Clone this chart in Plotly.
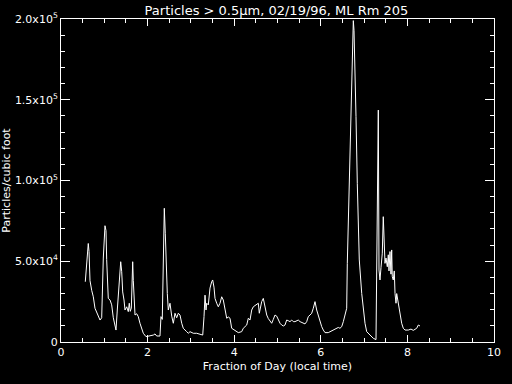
import plotly.graph_objects as go

# Fraction of day (local time)
x_days = [0.561, 0.594, 0.630, 0.647, 0.670, 0.709, 0.746, 0.785, 0.861, 0.901,
          0.940, 0.954, 0.977, 1.016, 1.039, 1.055, 1.092, 1.132, 1.171, 1.208,
          1.247, 1.270, 1.300, 1.323, 1.346, 1.379, 1.402, 1.425, 1.455, 1.478,
          1.517, 1.554, 1.577, 1.600, 1.624, 1.656, 1.670, 1.686, 1.709, 1.748,
          1.785, 1.824, 1.864, 1.901, 1.963, 2.055, 2.132, 2.171, 2.210, 2.286,
          2.309, 2.339, 2.363, 2.386, 2.409, 2.425, 2.455, 2.478, 2.517, 2.557,
          2.594, 2.633, 2.672, 2.709, 2.748, 2.788, 2.824, 2.903, 2.940, 2.979,
          3.055, 3.134, 3.210, 3.273, 3.303, 3.326, 3.349, 3.365, 3.402, 3.441,
          3.480, 3.503, 3.533, 3.557, 3.596, 3.633, 3.672, 3.711, 3.748, 3.788,
          3.827, 3.864, 3.903, 3.942, 4.018, 4.095, 4.173, 4.210, 4.289, 4.326,
          4.365, 4.404, 4.441, 4.520, 4.557, 4.580, 4.635, 4.672, 4.711, 4.751,
          4.788, 4.827, 4.866, 4.903, 4.942, 4.982, 5.018, 5.058, 5.097, 5.134,
          5.173, 5.212, 5.249, 5.289, 5.328, 5.365, 5.404, 5.443, 5.480, 5.520,
          5.559, 5.596, 5.635, 5.674, 5.711, 5.751, 5.790, 5.827, 5.866, 5.905,
          5.942, 5.982, 6.021, 6.058, 6.097, 6.173, 6.212, 6.289, 6.367, 6.404,
          6.443, 6.483, 6.520, 6.559, 6.598, 6.612, 6.658, 6.691, 6.714, 6.737,
          6.751, 6.767, 6.790, 6.813, 6.843, 6.889, 6.945, 6.982, 7.021, 7.060,
          7.136, 7.212, 7.275, 7.305, 7.328, 7.344, 7.367, 7.390, 7.420, 7.443,
          7.460, 7.483, 7.506, 7.536, 7.559, 7.575, 7.598, 7.621, 7.637, 7.651,
          7.674, 7.697, 7.714, 7.737, 7.753, 7.776, 7.813, 7.845, 7.868, 7.905,
          7.945, 8.021, 8.083, 8.136, 8.215, 8.252, 8.291]

# Particles per cubic foot (thousands)
particles_k = [37.3, 47.7, 61.0, 56.0, 38.0, 32.0, 28.0, 20.9, 16.7, 13.6,
               15.0, 28.0, 52.0, 72.0, 69.0, 51.0, 27.0, 26.0, 23.0, 15.0,
               8.7, 7.4, 19.8, 30.0, 36.5, 49.7, 43.5, 31.0, 26.0, 19.8,
               21.8, 18.8, 24.0, 19.0, 21.0, 49.7, 38.0, 26.0, 16.7, 17.5,
               15.7, 11.6, 8.5, 5.4, 3.3, 3.7, 4.3, 5.0, 3.7, 3.7,
               15.7, 14.0, 49.7, 82.8, 67.0, 49.7, 30.0, 19.8, 24.0, 16.0,
               11.6, 17.8, 15.0, 17.8, 16.7, 11.6, 8.5, 6.4, 5.4, 6.4,
               5.4, 5.4, 5.0, 4.3, 15.7, 29.0, 19.8, 24.0, 23.0, 33.4,
               37.3, 38.4, 34.0, 27.0, 24.0, 21.8, 24.0, 28.0, 26.0, 20.9,
               14.7, 15.5, 14.7, 8.5, 7.4, 5.8, 6.4, 8.5, 10.5, 14.7,
               13.6, 19.8, 21.8, 23.0, 24.0, 17.8, 25.0, 27.0, 22.0, 16.7,
               14.5, 12.6, 11.6, 14.0, 16.7, 16.0, 13.6, 11.6, 10.5, 9.9,
               10.5, 13.6, 13.2, 12.6, 13.6, 12.6, 12.6, 13.2, 13.6, 12.6,
               12.0, 11.6, 11.2, 12.6, 15.7, 16.7, 17.8, 20.9, 25.0, 19.8,
               16.0, 13.6, 9.5, 7.4, 5.8, 5.8, 6.4, 7.4, 8.5, 9.0,
               8.5, 9.5, 12.6, 16.7, 20.9, 48.7, 98.0, 139.5, 172.5, 193.0,
               199.0, 193.0, 172.0, 139.5, 98.0, 50.8, 30.0, 19.8, 11.6, 6.4,
               4.3, 2.3, 1.5, 88.0, 143.6, 44.6, 38.4, 46.0, 55.0, 77.6,
               65.0, 48.7, 52.0, 46.6, 54.0, 44.0, 56.0, 42.0, 57.0, 40.4,
               38.4, 44.0, 30.0, 24.0, 30.0, 26.0, 21.8, 15.7, 11.6, 8.5,
               7.4, 7.4, 8.0, 7.2, 8.5, 10.5, 9.9]

particles = [v * 1000 for v in particles_k]

ytick_vals = [0, 50000, 100000, 150000, 200000]
ytick_text = ["0", "5.0x10<sup>4</sup>", "1.0x10<sup>5</sup>",
              "1.5x10<sup>5</sup>", "2.0x10<sup>5</sup>"]
xtick_vals = [0, 2, 4, 6, 8, 10]

fig = go.Figure()
fig.add_trace(go.Scatter(x=x_days, y=particles, mode="lines",
                         line=dict(color="white", width=1), showlegend=False))

font = dict(family="DejaVu Sans", size=11, color="white")

fig.update_layout(
    width=512, height=384,
    paper_bgcolor="black", plot_bgcolor="black",
    margin=dict(l=61, r=18, t=19, b=42),
    font=font,
    title=dict(text="Particles > 0.5µm, 02/19/96, ML Rm 205",
               x=0.54, xanchor="center", y=0.972, yanchor="middle",
               automargin=False,
               font=dict(family="DejaVu Sans", size=13, color="white")),
    xaxis=dict(range=[0, 10], tickvals=xtick_vals, ticktext=[str(v) for v in xtick_vals],
               ticks="inside", ticklen=7, tickcolor="white", tickwidth=1,
               minor=dict(dtick=0.5, ticks="inside", ticklen=4, tickcolor="white"),
               showline=True, linecolor="white", linewidth=1, mirror="ticks",
               showgrid=False, zeroline=False, automargin=False,
               title=dict(text="Fraction of Day (local time)", standoff=4,
                          font=dict(family="DejaVu Sans", size=11, color="white"))),
    yaxis=dict(range=[0, 200000], tickvals=ytick_vals, ticktext=ytick_text,
               ticks="inside", ticklen=9, tickcolor="white", tickwidth=1,
               minor=dict(dtick=10000, ticks="inside", ticklen=4, tickcolor="white"),
               showline=True, linecolor="white", linewidth=1, mirror="ticks",
               showgrid=False, zeroline=False, automargin=False,
               title=dict(text="Particles/cubic foot", standoff=4,
                          font=dict(family="DejaVu Sans", size=11, color="white"))),
)

fig.write_html("out.html", config={"displayModeBar": False},
               post_script="document.body.style.margin='0';document.body.style.background='black';")
